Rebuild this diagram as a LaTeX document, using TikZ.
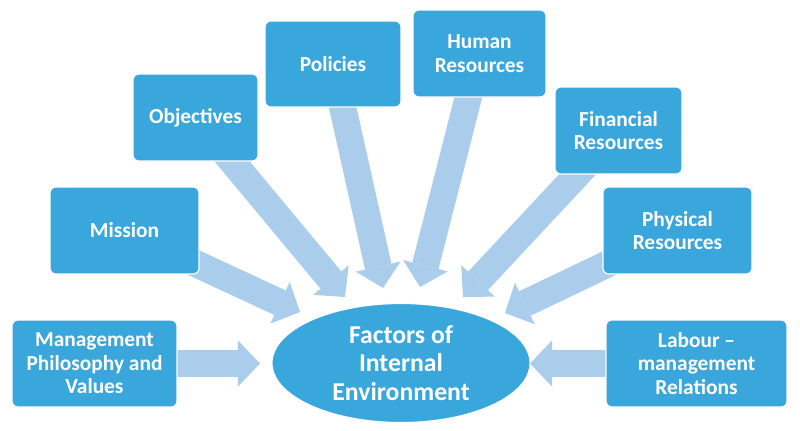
\documentclass[tikz,border=0pt]{standalone}
\usepackage{fontspec}
\setmainfont{Carlito}
\usetikzlibrary{shapes.geometric,arrows.meta,backgrounds}
\definecolor{boxblue}{HTML}{39A6DC}
\definecolor{arrblue}{HTML}{A9CDEA}
\begin{document}
\begin{tikzpicture}[x=0.025cm,y=-0.025cm,
  box/.style 2 args={rectangle, rounded corners=0.15cm, fill=boxblue, draw=white,
    line width=0.8pt, text=white, font=\bfseries\fontsize{15.2}{16.8}\selectfont,
    align=center, inner sep=0pt, minimum width=#1*0.025cm, minimum height=#2*0.025cm},
  ell/.style={ellipse, fill=boxblue, draw=white, line width=0.8pt, text=white,
    font=\bfseries\fontsize{18.3}{20.4}\selectfont, align=center, inner sep=0pt,
    minimum width=258*0.025cm, minimum height=119*0.025cm},
  flow/.style={draw=arrblue, line width=0.675cm,
    -{Triangle[length=0.55cm, width=1.15cm, line width=0pt]}}]
\useasboundingbox (0,0) rectangle (800,430);

\node[box={165}{87}] (mpv) at (94.5,363.5) {Management\\Philosophy and\\Values};
\node[box={149}{87}] (mis) at (124.5,230.5) {Mission};
\node[box={125}{87}] (obj) at (195.5,117.5) {Objectives};
\node[box={136}{86}] (pol) at (333,64) {Policies};
\node[box={133}{87}] (hum) at (479.5,53.5) {Human\\Resources};
\node[box={127}{87}] (fin) at (618.5,130.5) {Financial\\Resources};
\node[box={149}{87}] (phy) at (677.5,230.5) {Physical\\Resources};
\node[box={181}{87}] (lab) at (696.5,363.5) {Labour --\\management\\Relations};
\node[ell] (fac) at (401,363) {Factors of\\Internal\\Environment};

\coordinate (tmpv) at (260,363.5);
\coordinate (tmis) at (300,312);
\coordinate (tobj) at (345,297);
\coordinate (tpol) at (383,288);
\coordinate (thum) at (420,287);
\coordinate (tfin) at (463,297);
\coordinate (tphy) at (505,313);
\coordinate (tlab) at (530,363.5);

\begin{scope}[on background layer]
\fill[white] (0,0) rectangle (800,430);
\draw[flow] (mpv.center) -- (tmpv);
\draw[flow] (mis.center) -- (tmis);
\draw[flow] (obj.center) -- (tobj);
\draw[flow] (pol.center) -- (tpol);
\draw[flow] (hum.center) -- (thum);
\draw[flow] (fin.center) -- (tfin);
\draw[flow] (phy.center) -- (tphy);
\draw[flow] (lab.center) -- (tlab);
\end{scope}
\end{tikzpicture}
\end{document}
